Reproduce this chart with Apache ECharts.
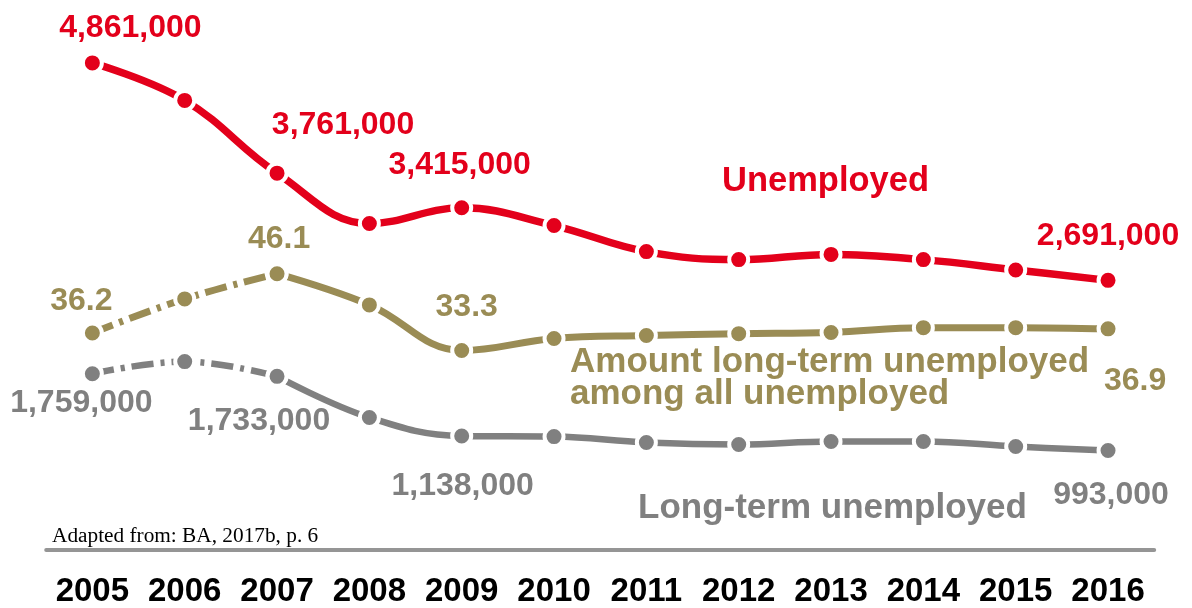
<!DOCTYPE html>
<html>
<head>
<meta charset="utf-8">
<script src="https://cdn.jsdelivr.net/npm/echarts@6/dist/echarts.min.js"></script>
<style>
  html, body { margin: 0; padding: 0; background: #ffffff; }
  #chart { width: 1192px; height: 608px; }
</style>
</head>
<body>
<div id="chart"></div>
<script>
// ---- data ----
const years = ['2005', '2006', '2007', '2008', '2009', '2010', '2011', '2012', '2013', '2014', '2015', '2016'];
const unemployed = [4861000, 4487000, 3761000, 3258000, 3415000, 3238000, 2978000, 2898000, 2950000, 2898000, 2795000, 2691000];
const longTermUnemployed = [1759000, 1880000, 1733000, 1322000, 1138000, 1132000, 1073000, 1053000, 1083000, 1083000, 1033000, 993000];
const longTermShare = [36.2, 41.9, 46.1, 40.9, 33.3, 35.3, 35.8, 36.1, 36.3, 37.1, 37.1, 36.9];
const labelledYears = [0, 2, 4, 11];
const dashedUntil = 2; // index of 2007: earlier segments drawn dash-dot

// ---- styles ----
const RED = '#E3001B', OLIVE = '#9A8C55', GREY = '#808080';
const SANS = '"Liberation Sans", Arial, sans-serif';

const labelOffsets = {
  red:   {0: [38, -34.5], 2: [66, -48], 4: [-2, -42.6], 11: [0, -44]},
  olive: {0: [-11, -31.5], 2: [2, -35], 4: [5, -43], 11: [27, 52.7]},
  grey:  {0: [-11, 29.3], 2: [-18, 44.7], 4: [1, 50], 11: [3, 44.5]}
};

function fmtCount(v) { return v.toLocaleString('en-US'); }
function fmtPct(v) { return v.toFixed(1); }

function buildData(values, from, to, offsets, color, fmt) {
  return values.map(function (v, i) {
    if (i < from || i > to) return null;
    const item = { value: v };
    if (offsets[i] && labelledYears.indexOf(i) >= 0) {
      item.label = {
        show: true,
        position: 'inside',
        align: 'center',
        verticalAlign: 'middle',
        offset: offsets[i],
        formatter: fmt(v),
        color: color,
        fontFamily: SANS,
        fontWeight: 'bold',
        fontSize: 32
      };
    }
    return item;
  });
}

function lineSeries(name, data, yIdx, color, dashed, width) {
  return {
    name: name,
    type: 'line',
    yAxisIndex: yIdx,
    smooth: 0.4,
    connectNulls: false,
    symbol: 'circle',
    symbolSize: 19,
    showAllSymbol: true,
    z: 3,
    itemStyle: { color: color, borderColor: '#ffffff', borderWidth: 4 },
    lineStyle: {
      color: color,
      width: width,
      type: dashed ? [22, 7, 4, 7] : 'solid',
      cap: 'butt'
    },
    label: { show: false },
    emphasis: { disabled: true },
    data: data
  };
}

const last = years.length - 1;
const series = [
  lineSeries('Long-term unemployed (to 2007)',
    buildData(longTermUnemployed, 0, dashedUntil, labelOffsets.grey, GREY, fmtCount), 0, GREY, true, 6.5),
  lineSeries('Long-term unemployed',
    buildData(longTermUnemployed, dashedUntil, last, {4: labelOffsets.grey[4], 11: labelOffsets.grey[11]}, GREY, fmtCount), 0, GREY, false, 6.5),
  lineSeries('Share (to 2007)',
    buildData(longTermShare, 0, dashedUntil, labelOffsets.olive, OLIVE, fmtPct), 1, OLIVE, true, 7),
  lineSeries('Amount long-term unemployed among all unemployed',
    buildData(longTermShare, dashedUntil, last, {4: labelOffsets.olive[4], 11: labelOffsets.olive[11]}, OLIVE, fmtPct), 1, OLIVE, false, 7),
  lineSeries('Unemployed',
    buildData(unemployed, 0, last, labelOffsets.red, RED, fmtCount), 0, RED, false, 7.5)
];

const chart = echarts.init(document.getElementById('chart'), null, { renderer: 'canvas' });
chart.setOption({
  animation: false,
  backgroundColor: '#ffffff',
  grid: { left: 46.2, right: 37.8, top: 49, bottom: 56.5 },
  xAxis: {
    type: 'category',
    data: years,
    boundaryGap: true,
    axisLine: { show: true, lineStyle: { color: '#959595', width: 4 } },
    axisTick: { show: false },
    splitLine: { show: false },
    axisLabel: {
      color: '#000000',
      fontFamily: SANS,
      fontWeight: 'bold',
      fontSize: 33,
      margin: 25,
      interval: 0
    }
  },
  yAxis: [
    { type: 'value', min: 0, max: 5000000, show: false, splitLine: { show: false } },
    { type: 'value', min: 0, max: 83.6, show: false, splitLine: { show: false } }
  ],
  series: series,
  graphic: [
    { type: 'text', x: 722, y: 181.5, z: 10,
      style: { text: 'Unemployed', fill: RED, font: 'bold 34.5px ' + SANS, align: 'left', verticalAlign: 'middle' } },
    { type: 'text', x: 570, y: 362.5, z: 10,
      style: { text: 'Amount long-term unemployed', fill: OLIVE, font: 'bold 35px ' + SANS, align: 'left', verticalAlign: 'middle' } },
    { type: 'text', x: 570, y: 394.5, z: 10,
      style: { text: 'among all unemployed', fill: OLIVE, font: 'bold 35px ' + SANS, align: 'left', verticalAlign: 'middle' } },
    { type: 'text', x: 638, y: 508.5, z: 10,
      style: { text: 'Long-term unemployed', fill: GREY, font: 'bold 35px ' + SANS, align: 'left', verticalAlign: 'middle' } },
    { type: 'text', x: 52, y: 536.5, z: 10,
      style: { text: 'Adapted from: BA, 2017b, p. 6', fill: '#000000', font: '21.3px "Liberation Serif", "Times New Roman", serif', align: 'left', verticalAlign: 'middle' } }
  ]
});
</script>
</body>
</html>
